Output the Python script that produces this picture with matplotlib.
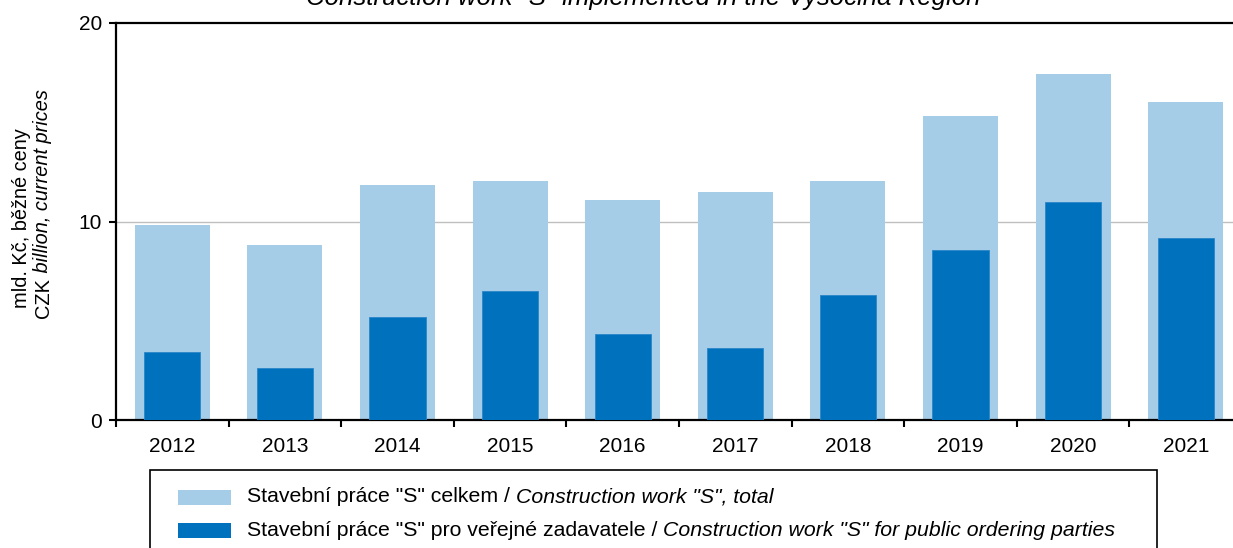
import matplotlib.pyplot as plt
from matplotlib.patches import Rectangle

plt.rcParams['font.family'] = ['Liberation Sans', 'DejaVu Sans']

years = ["2012", "2013", "2014", "2015", "2016", "2017", "2018", "2019", "2020", "2021"]
total = [9.80, 8.84, 11.86, 12.06, 11.10, 11.50, 12.06, 15.33, 17.44, 16.03]
public = [3.42, 2.61, 5.18, 6.48, 4.32, 3.62, 6.28, 8.54, 11.00, 9.15]

light = "#A6CDE8"
dark = "#0071BC"
W, H = 1233, 548

fig = plt.figure(figsize=(W / 100, H / 100), dpi=100)
# axes run a little past the right edge, like in the source picture
ax = fig.add_axes([116 / W, 1 - 420 / H, 1126 / W, 397 / H])

x = list(range(len(years)))
ax.bar(x, total, width=0.667, color=light, zorder=2)
ax.bar(x, public, width=0.5, color=dark, edgecolor="#2a86c8", linewidth=0.6, zorder=3)

ax.set_xlim(-0.5, len(years) - 0.5)
ax.set_ylim(0, 20)
ax.set_yticks([0, 10, 20])
ax.set_xticks(x)
ax.set_xticklabels(years)
ax.set_xticks([i - 0.5 for i in range(len(years) + 1)], minor=True)
ax.tick_params(axis="x", which="major", length=0, pad=12, labelsize=15)
ax.tick_params(axis="x", which="minor", length=5, width=1.5, direction="out")
ax.tick_params(axis="y", length=5, width=1.5, direction="out", pad=5, labelsize=15)
ax.axhline(10, color="#BFBFBF", linewidth=1, zorder=1)

for s in ["left", "bottom", "top"]:
    ax.spines[s].set_linewidth(1.6)
    ax.spines[s].set_color("black")
ax.spines["right"].set_visible(False)

# y axis label, two lines (second line: CZK upright, rest italic)
fig.text(22 / W, 1 - 218 / H, "mld. Kč, běžné ceny", rotation=90,
         ha="center", va="center", fontsize=14.4)
czk = fig.text(43 / W, 1 - 318 / H, "CZK", rotation=90,
               ha="center", va="bottom", fontsize=14.4)
fig.add_artist(plt.matplotlib.text.Annotation(
    " billion, current prices", xy=(0.5, 1), xycoords=czk, rotation=90,
    ha="center", va="bottom", fontsize=14.4, style="italic"))

# title (upper part is cut off in the source)
fig.text(648 / W, 1 - 5 / H, 'Construction work "S" implemented in the Vysočina Region¹',
         ha="center", va="baseline", fontsize=18.5, style="italic")

# legend box
fig.patches.append(Rectangle((150 / W, -0.05), 1007 / W, (1 - 470 / H) + 0.05,
                             transform=fig.transFigure, facecolor="none",
                             edgecolor="black", linewidth=1.2))
leg_items = [
    (light, 'Stavební práce "S" celkem / ', 'Construction work "S", total', 497),
    (dark, 'Stavební práce "S" pro veřejné zadavatele / ',
     'Construction work "S" for public ordering parties', 530),
]
for col, cz, en, yc in leg_items:
    fig.patches.append(Rectangle((178 / W, 1 - (yc + 7.5) / H), 53 / W, 15 / H,
                                 transform=fig.transFigure, facecolor=col, edgecolor="none"))
    t = fig.text(247 / W, 1 - yc / H, cz, ha="left", va="center", fontsize=15.3)
    fig.add_artist(plt.matplotlib.text.Annotation(
        en, xy=(1, 0), xycoords=t, ha="left", va="bottom",
        fontsize=15.3, style="italic"))

fig.savefig("out.png", dpi=100)
